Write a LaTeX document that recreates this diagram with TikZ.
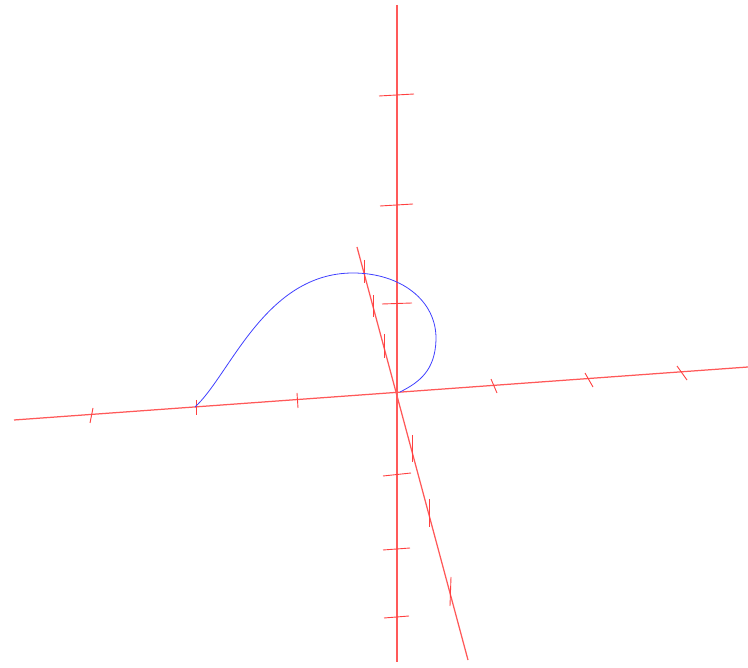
\documentclass[tikz,border=0pt]{standalone}
\usetikzlibrary{positioning}
\begin{document}
\begin{tikzpicture}[x=1pt, y=-1pt,
		axisline/.style={draw=red!65, line width=1.25pt},
		tickmark/.style={draw=red!75, line width=0.9pt},
		curve/.style={draw=blue!75, line width=0.8pt, line join=round}]
		\useasboundingbox (0,0) rectangle (748,668);
		
		% Origem e extremos dos eixos
		\coordinate (o) at (397,394);
		\coordinate (xa) at (14,420);
		\coordinate (xb) at (748,367);
		\coordinate (za) at (397,5);
		\coordinate (zb) at (397,662);
		\coordinate (ya) at (357,247);
		\coordinate (yb) at (468,660);
		
		% Eixos
		\draw[axisline] (xa) -- (xb);
		\draw[axisline] (za) -- (zb);
		\draw[axisline] (ya) -- (yb);
		
		% Marcas no eixo horizontal
		\foreach \xa/\ya/\xb/\yb in {93/408/90/423, 196/400/196/415, 297/393/298/408,
			491/379/497/393, 585/373/593/387, 677/366/687/380}
		\draw[tickmark] (\xa,\ya) -- (\xb,\yb);
		
		% Marcas no eixo vertical
		\foreach \xa/\ya/\xb/\yb in {379/96/414/94, 380/206/413/204, 382/304/412/303,
			383/476/411/473, 383/550/410/548, 384/618/409/616}
		\draw[tickmark] (\xa,\ya) -- (\xb,\yb);
		
		% Marcas no eixo inclinado
		\foreach \xa/\ya/\xb/\yb in {364/260/364/283, 373/295/373/317, 384/334/384/358,
			412/435/412/462, 429/499/429/527, 451/577/450/606}
		\draw[tickmark] (\xa,\ya) -- (\xb,\yb);
		
		% Curva
		\coordinate (c0) at (195,407);
		\coordinate (c1) at (353,273);
		\coordinate (c2) at (436,340);
		\coordinate (c3) at (400,392);
		\draw[curve] (c0) .. controls (230,375) and (265,273) .. (c1)
			.. controls (400,273) and (437,300) .. (c2)
			.. controls (435,370) and (420,382) .. (c3);
		
	\end{tikzpicture}
\end{document}
